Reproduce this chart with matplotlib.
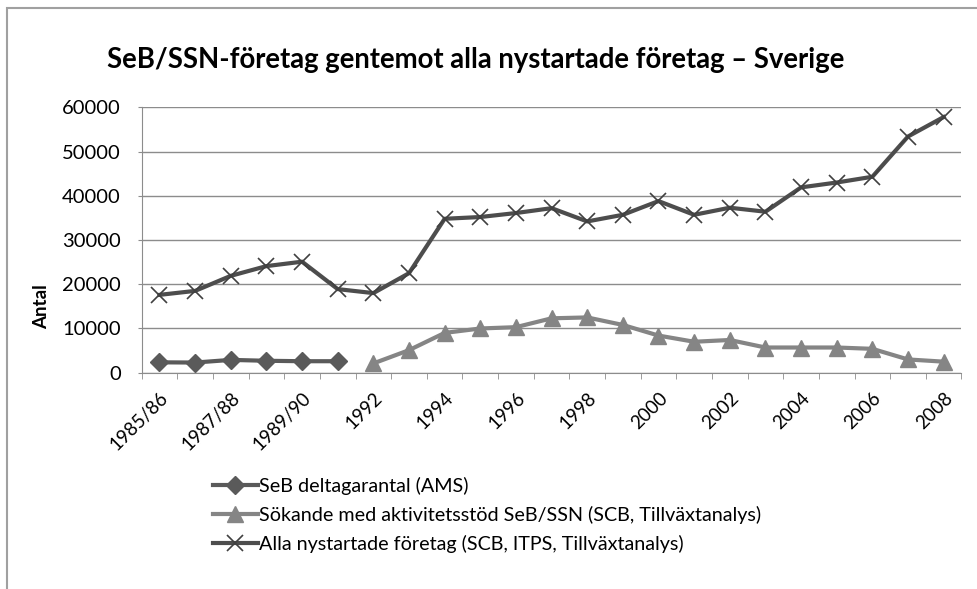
import matplotlib.pyplot as plt
from matplotlib.patches import Rectangle
from matplotlib.ticker import FixedLocator, NullFormatter

categories = ["1985/86", "1986/87", "1987/88", "1988/89", "1989/90", "1990/91",
              "1992", "1993", "1994", "1995", "1996", "1997", "1998", "1999",
              "2000", "2001", "2002", "2003", "2004", "2005", "2006", "2007", "2008"]

seb_ams = [2350, 2300, 2900, 2700, 2600, 2600]
sokande = [2100, 5100, 9000, 10000, 10300, 12300, 12500, 10800, 8400, 7000,
           7400, 5700, 5700, 5700, 5400, 3000, 2500]
alla = [17600, 18500, 21900, 24100, 25100, 18900, 18000, 22500, 34800, 35200,
        36100, 37200, 34200, 35700, 38800, 35700, 37300, 36400, 41900, 43000,
        44300, 53400, 57800]

labels = ["SeB deltagarantal (AMS)",
          "Sökande med aktivitetsstöd SeB/SSN (SCB, Tillväxtanalys)",
          "Alla nystartade företag (SCB, ITPS, Tillväxtanalys)"]
title = "SeB/SSN-företag gentemot alla nystartade företag – Sverige"

plt.rcParams["font.family"] = ["Lato", "DejaVu Sans"]

fig = plt.figure(figsize=(9.77, 5.89), dpi=100)
fig.patches.append(Rectangle((7 / 977, -0.1), 1.2, 1.1 - 8 / 589,
                             transform=fig.transFigure, fill=False,
                             edgecolor="#a0a0a0", linewidth=1.5))
ax = fig.add_axes([0.145, 0.3672, 0.8391, 0.4506])

x_all = list(range(len(categories)))
x_seb = x_all[:len(seb_ams)]
x_sok = x_all[6:6 + len(sokande)]

l1, = ax.plot(x_seb, seb_ams, color="#5a5a5a", linewidth=3, marker="D",
              markersize=9, markeredgecolor="#5a5a5a")
l2, = ax.plot(x_sok, sokande, color="#858585", linewidth=3, marker="^",
              markersize=12, markeredgecolor="#858585")
l3, = ax.plot(x_all, alla, color="#4d4d4d", linewidth=3, marker="x",
              markersize=12, markeredgewidth=1.2, markeredgecolor="#404040")

ax.set_xlim(-0.5, len(categories) - 0.5)
ax.set_ylim(0, 60000)
ax.set_yticks(range(0, 60001, 10000))
ax.yaxis.grid(True, color="#8c8c8c", linewidth=1)
ax.set_axisbelow(True)
for side in ["top", "right"]:
    ax.spines[side].set_visible(False)
for side in ["left", "bottom"]:
    ax.spines[side].set_color("#8c8c8c")
ax.tick_params(axis="y", length=3, color="#8c8c8c", pad=12, labelsize=14.5)

ax.xaxis.set_major_locator(FixedLocator(x_all[::2]))
ax.set_xticklabels(categories[::2], rotation=45, ha="right",
                   rotation_mode="anchor", fontsize=13.5)
ax.tick_params(axis="x", which="major", length=0, pad=12)
ax.xaxis.set_minor_locator(FixedLocator([i - 0.5 for i in range(len(categories) + 1)]))
ax.xaxis.set_minor_formatter(NullFormatter())
ax.tick_params(axis="x", which="minor", length=4, color="#8c8c8c")

fig.text(0.0425, 1 - 307 / 589, "Antal", rotation=90, ha="center", va="center",
         fontsize=13.5, fontweight="bold")
fig.text(107 / 977, 1 - 60 / 589, title, ha="left", va="center",
         fontsize=19.8, fontweight="bold")

fig.legend([l1, l2, l3], labels, loc="upper left",
           bbox_to_anchor=(195 / 977, 1 - 459 / 589), frameon=False,
           fontsize=14.2, handlelength=2.3, handletextpad=0.05, labelspacing=0.56)

fig.savefig("out.png", dpi=100)
